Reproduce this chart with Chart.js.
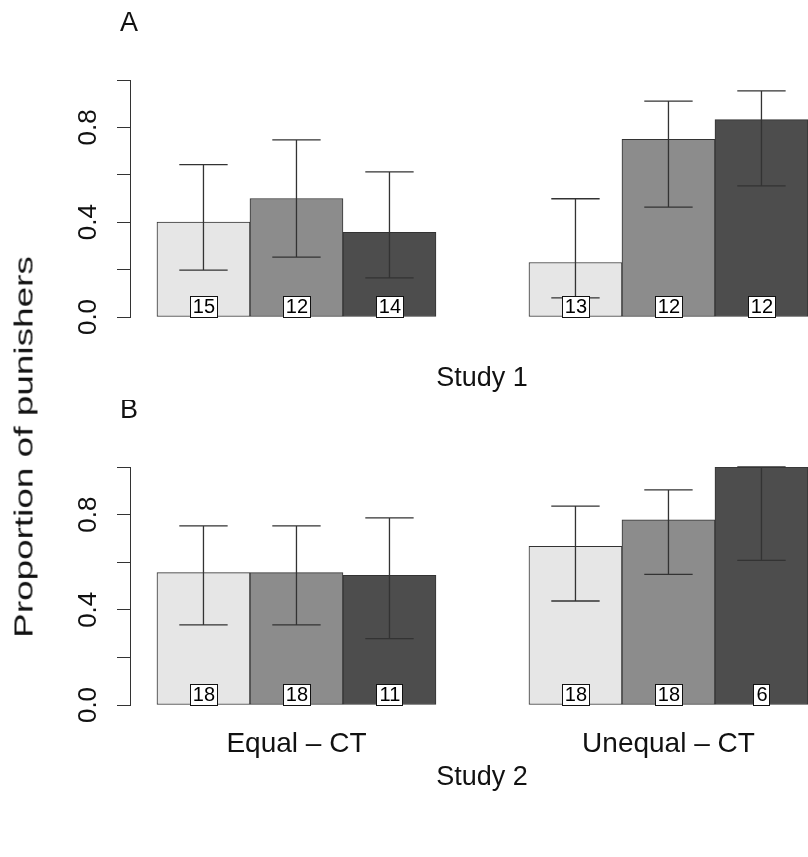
<!DOCTYPE html>
<html><head><meta charset="utf-8">
<script src="https://cdn.jsdelivr.net/npm/chart.js@4.4.1/dist/chart.umd.min.js"></script>
<style>
html,body{margin:0;padding:0;overflow:hidden;background:#fff;width:808px;height:857px;}
#c1{position:absolute;left:0;top:0;}
#c2{position:absolute;left:0;top:400px;}
#ylab{position:absolute;left:24px;top:447px;transform:translate(-50%,-50%) rotate(-90deg) scaleX(1.42);font:26px "Liberation Sans",Arial,sans-serif;color:#111;white-space:nowrap;}
</style></head><body>
<canvas id="c1" width="834" height="400"></canvas>
<canvas id="c2" width="834" height="457"></canvas>
<div id="ylab">Proportion of punishers</div>
<script>
// ---- data ----
const tickLabels = ['Equal – CT', 'Unequal – CT'];
const yTickLabels = ['0.0', '0.4', '0.8'];
const study1Prop = [0.400, 0.500, 0.357, 0.230, 0.750, 0.833];
const study1Low  = [0.198, 0.253, 0.165, 0.081, 0.464, 0.553];
const study1High = [0.643, 0.747, 0.612, 0.499, 0.911, 0.954];
const study1N    = [15, 12, 14, 13, 12, 12];
const study2Prop = [0.556, 0.556, 0.545, 0.667, 0.778, 1.000];
const study2Low  = [0.337, 0.337, 0.279, 0.437, 0.549, 0.608];
const study2High = [0.753, 0.753, 0.786, 0.836, 0.904, 1.000];
const study2N    = [18, 18, 11, 18, 18, 6];

// ---- layout helpers ----
const FAMILY = '"Liberation Sans", Arial, Helvetica, sans-serif';
const barColors = ['#e6e6e6', '#8c8c8c', '#4d4d4d'];
const perGroup = 3;
function slotX(i) { const g = Math.floor(i / perGroup); return g * (perGroup + 1) + (i % perGroup) + 0.5; }
const groupCenters = tickLabels.map((_, g) => g * (perGroup + 1) + perGroup / 2);

Chart.defaults.font.family = FAMILY;

const annot = {
  id: 'annot',
  afterDatasetsDraw(chart, args, opts) {
    const {ctx, chartArea, scales: {x, y}} = chart;
    ctx.save();
    ctx.strokeStyle = '#333';
    ctx.lineWidth = 1.3;
    opts.low.forEach((lo, i) => {
      const xv = slotX(i);
      const px = x.getPixelForValue(xv);
      const hw = x.getPixelForValue(xv + 0.26) - px;
      const yl = y.getPixelForValue(lo), yh = y.getPixelForValue(opts.high[i]);
      ctx.beginPath();
      ctx.moveTo(px, yl); ctx.lineTo(px, yh);
      ctx.moveTo(px - hw, yl); ctx.lineTo(px + hw, yl);
      ctx.moveTo(px - hw, yh); ctx.lineTo(px + hw, yh);
      ctx.stroke();
    });
    ctx.font = '20px ' + FAMILY;
    ctx.textAlign = 'center';
    ctx.textBaseline = 'middle';
    opts.n.forEach((n, i) => {
      const px = x.getPixelForValue(slotX(i));
      const py = y.getPixelForValue(0.046);
      const t = String(n);
      const w = Math.round(ctx.measureText(t).width + 5), h = 21;
      const lx = Math.round(px - w / 2), ty = Math.round(py - h / 2);
      ctx.fillStyle = '#fff';
      ctx.fillRect(lx, ty, w, h);
      ctx.strokeStyle = '#111';
      ctx.lineWidth = 1;
      ctx.strokeRect(lx + 0.5, ty + 0.5, w, h);
      ctx.fillStyle = '#000';
      ctx.fillText(t, px + 0.5, py + 1.5);
    });
    ctx.font = '27px ' + FAMILY;
    ctx.textAlign = 'left';
    ctx.textBaseline = 'alphabetic';
    ctx.fillStyle = '#111';
    ctx.fillText(opts.letter, chartArea.left - 10, chartArea.top - 49);
    ctx.restore();
  }
};

function makeChart(id, props, low, high, n, letter, showTicks, title, topPad, xHeight, titlePad) {
  return new Chart(document.getElementById(id), {
    type: 'bar',
    data: {
      datasets: [{
        data: props.map((v, i) => ({x: slotX(i), y: v})),
        backgroundColor: props.map((_, i) => barColors[i % perGroup]),
        borderColor: '#333',
        borderWidth: 1,
        borderSkipped: false,
        barPercentage: 1,
        categoryPercentage: 1
      }]
    },
    options: {
      responsive: false,
      animation: false,
      devicePixelRatio: 1,
      layout: {padding: {top: topPad, left: 0, right: 0, bottom: 0}},
      plugins: {
        legend: {display: false},
        tooltip: {enabled: false},
        annot: {low, high, n, letter}
      },
      scales: {
        x: {
          type: 'linear', min: -0.29, max: 7.28, offset: false,
          grid: {display: false, drawTicks: false},
          border: {display: false},
          afterBuildTicks: s => { s.ticks = groupCenters.map(v => ({value: v})); },
          ticks: {
            display: showTicks, padding: 22, autoSkip: false, maxRotation: 0,
            font: {size: 28, family: FAMILY}, color: '#111',
            callback: (v, i) => tickLabels[i]
          },
          title: {display: true, text: title, font: {size: 27, family: FAMILY}, color: '#111',
                  padding: {top: 0, bottom: titlePad}},
          afterFit: s => { s.height = xHeight; }
        },
        y: {
          type: 'linear', position: 'left', min: 0, max: 1,
          ticks: {
            stepSize: 0.2, minRotation: 90, maxRotation: 90, crossAlign: 'center',
            padding: 10, autoSkip: false, font: {size: 26, family: FAMILY}, color: '#111',
            callback: v => { const s = (Math.round(v * 10) / 10).toFixed(1); return yTickLabels.includes(s) ? s : ''; }
          },
          grid: {drawOnChartArea: false, drawTicks: true, tickLength: 13, color: '#333'},
          border: {display: true, color: '#333'},
          afterFit: s => { s.width = 130; }
        }
      }
    },
    plugins: [annot]
  });
}

makeChart('c1', study1Prop, study1Low, study1High, study1N, 'A', false, 'Study 1', 80, 83, 5);
makeChart('c2', study2Prop, study2Low, study2High, study2N, 'B', true, 'Study 2', 67, 152, 63);
</script>
</body></html>
